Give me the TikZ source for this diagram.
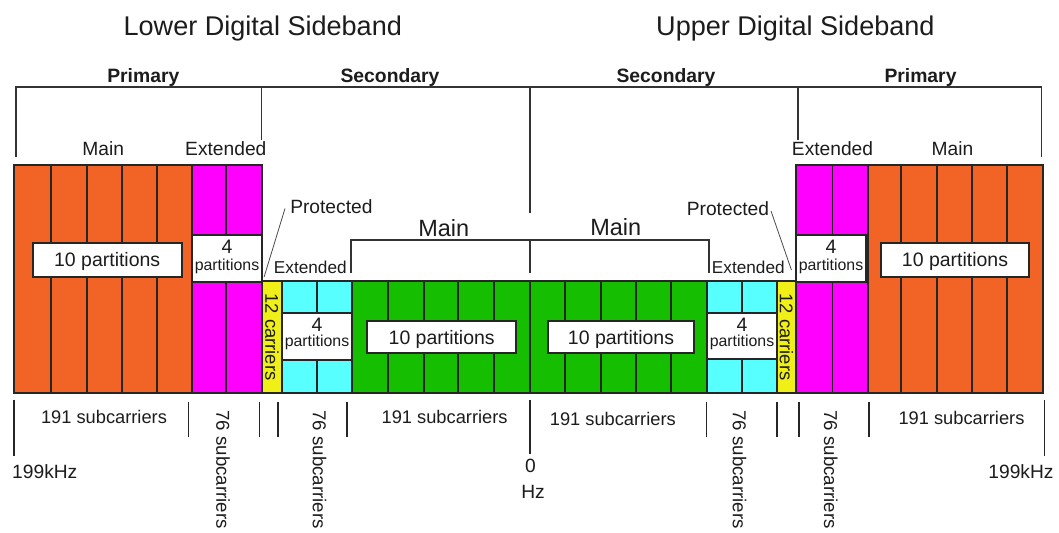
\documentclass[tikz,border=0pt]{standalone}
\usepackage{fontspec}
\setmainfont{Liberation Sans}
\usetikzlibrary{fit,calc}

\definecolor{orng}{RGB}{242,99,38}
\definecolor{mgnt}{RGB}{255,0,255}
\definecolor{ylw}{RGB}{240,240,24}
\definecolor{cyn}{RGB}{88,255,255}
\definecolor{grn}{RGB}{22,190,0}
\definecolor{ink}{RGB}{28,28,28}

\tikzset{
  blk/.style={draw=black!85, line width=1.4pt, inner sep=0pt},
  div/.style={draw=black!85, line width=1.4pt},
  wbox/.style={blk, fill=white},
  brk/.style={draw=black!80, line width=1.2pt},
  tickline/.style={draw=black!85, line width=1.3pt},
  lead/.style={draw=black!70, line width=0.6pt},
  txt/.style={inner sep=0pt, text=ink, anchor=base},
  ttl/.style={txt, font=\fontsize{20.3}{24}\selectfont},
  tier/.style={txt, font=\fontsize{14.5}{17}\selectfont\bfseries},
  lbl/.style={txt, font=\fontsize{14.4}{17}\selectfont},
  bigmain/.style={txt, font=\fontsize{17.6}{20}\selectfont},
  smallext/.style={txt, font=\fontsize{12.9}{15}\selectfont},
  tenp/.style={txt, font=\fontsize{14.6}{17}\selectfont},
  four/.style={txt, font=\fontsize{14.6}{17}\selectfont},
  parts/.style={txt, font=\fontsize{11.9}{14}\selectfont},
  carr/.style={inner sep=0pt, text=ink, font=\fontsize{13.8}{16}\selectfont, rotate=-90},
  subc/.style={txt, font=\fontsize{13.7}{16}\selectfont},
  subcv/.style={inner sep=0pt, text=ink, font=\fontsize{14}{16}\selectfont, rotate=-90, anchor=west},
  freq/.style={txt, font=\fontsize{14.4}{17}\selectfont},
}

\begin{document}
\begin{tikzpicture}[x=0.75pt,y=-0.75pt]
\useasboundingbox (0,0) rectangle (1059,532);
\fill[white] (0,0) rectangle (1059,532);

% ---------- headings ----------
\node[ttl] (tLow) at (262.8,35.5) {Lower Digital Sideband};
\node[ttl] (tUp)  at (795.4,35.5) {Upper Digital Sideband};

\node[tier] (priL) at (143.3,82) {Primary};
\node[tier] (secL) at (390,82) {Secondary};
\node[tier] (secR) at (666,82) {Secondary};
\node[tier] (priR) at (920.5,82) {Primary};

% primary / secondary brackets
\draw[brk] (15.9,157) -- (15.9,87.2) -- (1041.5,87.2) -- (1041.5,157);
\draw[brk] (261.3,87.2) -- (261.3,140);
\draw[brk] (798,87.2) -- (798,140);
\draw[brk] (530,87.2) -- (530,213);

\node[lbl] (mainL) at (103.3,155) {Main};
\node[lbl] (extL)  at (225.8,155) {Extended};
\node[lbl] (extR)  at (832.5,155) {Extended};
\node[lbl] (mainR) at (952.5,155) {Main};

% ---------- lower sideband blocks ----------
\node[blk, fill=orng, fit={(14,165)(192,393)}] (orL) {};
\foreach \x in {50.7,87.3,121.7,157.3} \draw[div] (\x,165) -- (\x,393);
\node[blk, fill=mgnt, fit={(192,165)(262,393)}] (mgL) {};
\draw[div] (226,165) -- (226,393);
\node[blk, fill=ylw, fit={(262,281)(282,393)}] (yeL) {};
\node[blk, fill=cyn, fit={(282,281)(352,393)}] (cyL) {};
\draw[div] (317.3,281) -- (317.3,393);
\node[blk, fill=grn, fit={(352,281)(530,393)}] (grL) {};
\foreach \x in {387.7,424,458.3,494} \draw[div] (\x,281) -- (\x,393);

% ---------- upper sideband blocks ----------
\node[blk, fill=grn, fit={(530,281)(707,393)}] (grR) {};
\foreach \x in {565,600.7,636,670.7} \draw[div] (\x,281) -- (\x,393);
\node[blk, fill=cyn, fit={(707,281)(777,393)}] (cyR) {};
\draw[div] (742.3,281) -- (742.3,393);
\node[blk, fill=ylw, fit={(777,281)(796,393)}] (yeR) {};
\node[blk, fill=mgnt, fit={(796,165)(868,393)}] (mgR) {};
\draw[div] (832.5,165) -- (832.5,393);
\node[blk, fill=orng, fit={(868,165)(1043,393)}] (orR) {};
\foreach \x in {900.7,936.7,971.7,1006.7} \draw[div] (\x,165) -- (\x,393);

% ---------- partition boxes ----------
\node[wbox, fit={(32.7,242.7)(181.7,276.7)}] (bOrL) {};
\node[tenp] at (107.2,266.7) {10 partitions};
\node[wbox, fit={(880.7,242.7)(1029.3,276.7)}] (bOrR) {};
\node[tenp] at (955,266.7) {10 partitions};

\node[wbox, fit={(192,235)(262,281.7)}] (bMgL) {};
\node[four]  at (227,253.3) {4};
\node[parts] at (227,270) {partitions};
\node[wbox, fit={(796,235)(866,282.3)}] (bMgR) {};
\node[four]  at (831,253.3) {4};
\node[parts] at (831,270) {partitions};

\node[wbox, fit={(282,312.7)(352,360)}] (bCyL) {};
\node[four]  at (317,331.7) {4};
\node[parts] at (317,346.7) {partitions};
\node[wbox, fit={(707,312.7)(777,359.3)}] (bCyR) {};
\node[four]  at (742,331.7) {4};
\node[parts] at (742,346.7) {partitions};

\node[wbox, fit={(367.3,320.7)(516,353.3)}] (bGrL) {};
\node[tenp] at (441.7,344.3) {10 partitions};
\node[wbox, fit={(547.7,320.7)(694.3,353.3)}] (bGrR) {};
\node[tenp] at (621,344.3) {10 partitions};

\node[carr] at (yeL.center) {12 carriers};
\node[carr] at (yeR.center) {12 carriers};

% ---------- secondary main bracket ----------
\draw[brk] (351,273.3) -- (351,240) -- (709,240) -- (709,273.3);
\draw[brk] (530,240) -- (530,273.3);
\node[bigmain] (smL) at (443.8,236.5) {Main};
\node[bigmain] (smR) at (615.8,235.5) {Main};

\node[smallext] (seL) at (310.3,273.3) {Extended};
\node[smallext] (seR) at (748.3,273.3) {Extended};

% ---------- protected labels ----------
\node[lbl, anchor=base west] (protL) at (290,213) {Protected};
\node[lbl, anchor=base east] (protR) at (769.3,215.5) {Protected};
\draw[lead] ($(protL.base west)+(-5,-4.5)$) -- ($(yeL.north west)+(3,-3)$);
\draw[lead] ($(protR.base east)+(1.7,-4.5)$) -- ($(yeR.north east)+(-5.5,-10)$);

% ---------- frequency scale ----------
\draw[tickline] (14.2,399.5) -- (14.2,456);
\draw[tickline] (530,399.5) -- (530,454);
\draw[tickline] (1044.5,399.5) -- (1044.5,456);
\foreach \x in {188.6,259.6,277.9,347.2,706.5,776.8,798.8,869.1}
  \draw[tickline] (\x,401.8) -- (\x,437.3);

\node[subc] at (104,423.8) {191 subcarriers};
\node[subc] at (444.6,423.8) {191 subcarriers};
\node[subc] at (612.8,425) {191 subcarriers};
\node[subc] at (961.5,424.5) {191 subcarriers};

\node[subcv] at (223.1,410.3) {76 subcarriers};
\node[subcv] at (319.5,410.3) {76 subcarriers};
\node[subcv] at (739.6,410.3) {76 subcarriers};
\node[subcv] at (830.9,410.3) {76 subcarriers};

\node[freq] at (44.8,478.6) {199kHz};
\node[freq] at (1021,478.6) {199kHz};
\node[freq] at (530.4,472.8) {0};
\node[freq] at (533,498.2) {Hz};
\end{tikzpicture}
\end{document}
